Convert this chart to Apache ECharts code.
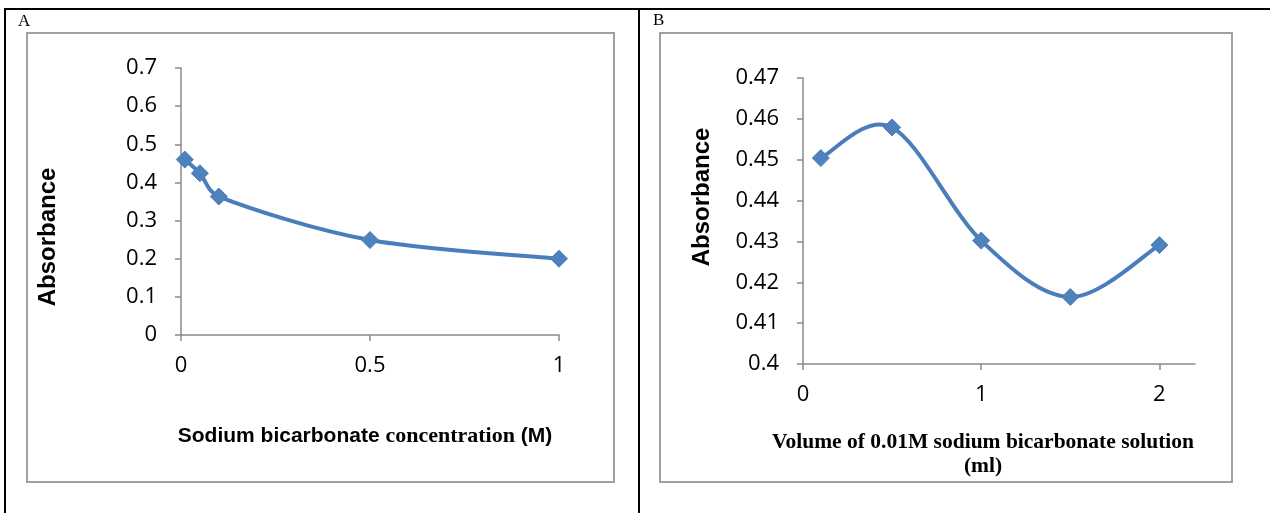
<!DOCTYPE html>
<html>
<head>
<meta charset="utf-8">
<script src="https://cdn.jsdelivr.net/npm/echarts@6/dist/echarts.min.js"></script>
<style>
  html, body { margin: 0; padding: 0; background: #fff; }
  #chart { width: 1270px; height: 513px; }
</style>
</head>
<body>
<div id="chart"></div>
<script>
// panel A: absorbance vs concentration
const concA = [0.01, 0.05, 0.1, 0.5, 1]
const absA = [0.46, 0.424, 0.363, 0.249, 0.2]
// panel B: absorbance vs volume
const volB = [0.1, 0.5, 1, 1.5, 2]
const absB = [0.4504, 0.4579, 0.4302, 0.4164, 0.4291]
const ticksXB = [0, 1, 2]

const lineColor = '#4A7EBB'
const markColor = '#4F81BD'
const axisGray = '#8a8a8a'
const tickFont = 'Open Sans'

function pairs(xs, ys) {
  return xs.map((x, i) => [x, ys[i]])
}

// limit a control vector to a share of the segment length (keeps short segments from looping)
function capVec(v, segLen) {
  const len = Math.hypot(v[0], v[1])
  const maxLen = segLen * 0.4
  if (len <= maxLen || len === 0) return v
  return [v[0] * maxLen / len, v[1] * maxLen / len]
}

// excel-like smoothed line: one bezier piece per segment, through the axis scale
function smoothLine(xs, ys) {
  return function (params, api) {
    const i = params.dataIndex
    const n = xs.length
    if (i >= n - 1) return null
    const P = k => {
      const j = Math.max(0, Math.min(n - 1, k))
      return api.coord([xs[j], ys[j]])
    }
    const p0 = P(i - 1), p1 = P(i), p2 = P(i + 1), p3 = P(i + 2)
    const seg = Math.hypot(p2[0] - p1[0], p2[1] - p1[1])
    const t1 = capVec([(p2[0] - p0[0]) / 6, (p2[1] - p0[1]) / 6], seg)
    const t2 = capVec([(p3[0] - p1[0]) / 6, (p3[1] - p1[1]) / 6], seg)
    return {
      type: 'bezierCurve',
      shape: {
        x1: p1[0], y1: p1[1], x2: p2[0], y2: p2[1],
        cpx1: p1[0] + t1[0], cpy1: p1[1] + t1[1],
        cpx2: p2[0] - t2[0], cpy2: p2[1] - t2[1]
      },
      style: { stroke: lineColor, lineWidth: 4, fill: null, lineCap: 'round' }
    }
  }
}

const axisLineCommon = { show: true, lineStyle: { color: axisGray, width: 1.5 } }
const axisTickCommon = { show: true, length: 6, lineStyle: { color: axisGray, width: 1.5 } }

let option = {
  backgroundColor: '#fff',
  animation: false,
  grid: [
    { left: 181, top: 68, width: 378, height: 267 },
    { left: 803, top: 78, width: 392, height: 286 }
  ],
  xAxis: [
    {
      gridIndex: 0, type: 'value', min: 0, max: 1, interval: 0.5,
      axisLine: axisLineCommon,
      axisTick: axisTickCommon,
      splitLine: { show: false },
      axisLabel: { color: '#000', fontFamily: tickFont, fontSize: 22, margin: 20 }
    },
    {
      gridIndex: 1, type: 'value', min: 0, max: 2.2, interval: 1,
      axisLine: axisLineCommon,
      axisTick: Object.assign({ customValues: ticksXB }, axisTickCommon),
      splitLine: { show: false },
      axisLabel: { color: '#000', fontFamily: tickFont, fontSize: 22, margin: 20, customValues: ticksXB }
    }
  ],
  yAxis: [
    {
      gridIndex: 0, type: 'value', min: 0, max: 0.7, interval: 0.1,
      axisLine: axisLineCommon,
      axisTick: axisTickCommon,
      splitLine: { show: false },
      axisLabel: { color: '#000', fontFamily: tickFont, fontSize: 22, margin: 24 }
    },
    {
      gridIndex: 1, type: 'value', min: 0.4, max: 0.47, interval: 0.01,
      axisLine: axisLineCommon,
      axisTick: axisTickCommon,
      splitLine: { show: false },
      axisLabel: {
        color: '#000', fontFamily: tickFont, fontSize: 22, margin: 24,
        formatter: v => String(+v.toFixed(2))
      }
    }
  ],
  series: [
    {
      type: 'custom', xAxisIndex: 0, yAxisIndex: 0,
      renderItem: smoothLine(concA, absA),
      encode: { x: 0, y: 1 },
      silent: true, z: 2,
      data: pairs(concA, absA)
    },
    {
      type: 'scatter', xAxisIndex: 0, yAxisIndex: 0,
      symbol: 'diamond', symbolSize: 17, z: 3,
      itemStyle: { color: markColor, borderColor: lineColor, borderWidth: 1, opacity: 1 },
      data: pairs(concA, absA)
    },
    {
      type: 'custom', xAxisIndex: 1, yAxisIndex: 1,
      renderItem: smoothLine(volB, absB),
      encode: { x: 0, y: 1 },
      silent: true, z: 2,
      data: pairs(volB, absB)
    },
    {
      type: 'scatter', xAxisIndex: 1, yAxisIndex: 1,
      symbol: 'diamond', symbolSize: 17, z: 3,
      itemStyle: { color: markColor, borderColor: lineColor, borderWidth: 1, opacity: 1 },
      data: pairs(volB, absB)
    }
  ],
  graphic: [
    // table borders
    { type: 'line', shape: { x1: 4, y1: 9, x2: 1270, y2: 9 }, style: { stroke: '#000', lineWidth: 2 } },
    { type: 'line', shape: { x1: 5, y1: 8, x2: 5, y2: 513 }, style: { stroke: '#000', lineWidth: 2 } },
    { type: 'line', shape: { x1: 639, y1: 8, x2: 639, y2: 513 }, style: { stroke: '#000', lineWidth: 2 } },
    // chart frames
    { type: 'rect', shape: { x: 27, y: 33, width: 587, height: 449 }, style: { fill: 'none', stroke: '#a0a0a0', lineWidth: 2 } },
    { type: 'rect', shape: { x: 660, y: 33, width: 572, height: 449 }, style: { fill: 'none', stroke: '#a0a0a0', lineWidth: 2 } },
    // panel letters
    { type: 'text', x: 18, y: 13, style: { text: 'A', font: '17px "Liberation Serif"', fill: '#000' } },
    { type: 'text', x: 653, y: 12, style: { text: 'B', font: '17px "Liberation Serif"', fill: '#000' } },
    // y titles
    {
      type: 'text', x: 48, y: 237, rotation: Math.PI / 2,
      style: { text: 'Absorbance', font: 'bold 24px "Liberation Sans"', fill: '#000', align: 'center', verticalAlign: 'middle' }
    },
    {
      type: 'text', x: 702, y: 197, rotation: Math.PI / 2,
      style: { text: 'Absorbance', font: 'bold 24px "Liberation Sans"', fill: '#000', align: 'center', verticalAlign: 'middle' }
    },
    // x titles
    {
      type: 'text', x: 365, y: 436,
      style: {
        text: '{a|Sodium bicarbonate }{t|concentration}{a| (M)}',
        align: 'center', verticalAlign: 'middle',
        rich: {
          a: { font: 'bold 21px "Liberation Sans"', fill: '#000' },
          t: { font: 'bold 22px "Liberation Serif"', fill: '#000' }
        }
      }
    },
    {
      type: 'text', x: 983, y: 454,
      style: {
        text: 'Volume of 0.01M sodium bicarbonate solution\n(ml)',
        font: 'bold 21.5px "Liberation Serif"', fill: '#000', lineHeight: 24,
        align: 'center', verticalAlign: 'middle'
      }
    }
  ]
}

const chart = echarts.init(document.getElementById('chart'))
chart.setOption(option)
</script>
</body>
</html>
